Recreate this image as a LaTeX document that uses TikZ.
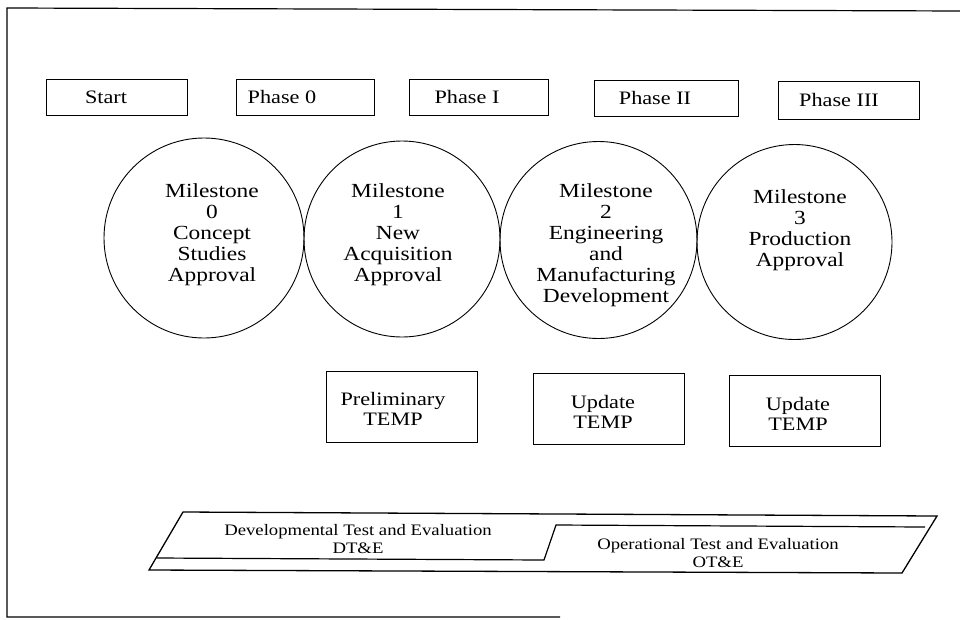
\documentclass[tikz,border=0pt]{standalone}
\usepackage{fontspec}
\setmainfont{Liberation Serif}[FakeStretch=1.17]
\usepackage{tikz}

\begin{document}
\begin{tikzpicture}[x=1pt,y=1pt,yscale=-1,xscale=1,
		phasebox/.style={draw, line width=1pt, minimum height=36pt, inner sep=0pt},
		boxtext/.style={font=\fontsize{19}{20}\selectfont, inner sep=0pt},
		milestone/.style={draw, circle, line width=0.9pt, inner sep=0pt},
		mtext/.style={align=center, font=\fontsize{20}{21}\selectfont, inner sep=0pt},
		tempbox/.style={draw, line width=1pt, minimum width=151pt, minimum height=71pt, inner sep=0pt},
		temptext/.style={align=center, font=\fontsize{19}{20}\selectfont, inner sep=0pt},
		bandtext/.style={align=center, font=\fontsize{16}{18}\selectfont, inner sep=0pt}]
		%page is 960 x 619, frame runs off on the right
		\useasboundingbox (0,0) rectangle (960,619);
		\draw [line width=1.2pt] (965,11) -- (7,8) -- (7,617) -- (560,617) ;
		
		% phases
		\node [phasebox, minimum width=141pt] (start) at (116.5,97) {};
		\node [boxtext] (start-t) at (106,97) {Start};
		\node [phasebox, minimum width=138pt] (phase0) at (305,97) {};
		\node [boxtext] (phase0-t) at (282,97) {Phase 0};
		\node [phasebox, minimum width=139pt] (phase1) at (478.5,97) {};
		\node [boxtext] (phase1-t) at (467,97) {Phase I};
		\node [phasebox, minimum width=144pt] (phase2) at (666,98) {};
		\node [boxtext] (phase2-t) at (655,98) {Phase II};
		\node [phasebox, minimum width=141pt, minimum height=38pt] (phase3) at (848.5,100) {};
		\node [boxtext] (phase3-t) at (839,100) {Phase III};
		
		% milestones
		\node [milestone, minimum size=200pt] (m0) at (204,238) {};
		\node [milestone, minimum size=196pt] (m1) at (402,239) {};
		\node [milestone, minimum size=197pt] (m2) at (598.5,240) {};
		\node [milestone, minimum size=195pt] (m3) at (794.5,242) {};
		
		\node [mtext] (m0-t) at (212,234.5) {Milestone\\0\\Concept\\Studies\\Approval};
		\node [mtext] (m1-t) at (398,234.5) {Milestone\\1\\New\\Acquisition\\Approval};
		\node [mtext] (m2-t) at (606,245.5) {Milestone\\2\\Engineering\\and\\Manufacturing\\Development};
		\node [mtext] (m3-t) at (800,230.5) {Milestone\\3\\Production\\Approval};
		
		% TEMP
		\node [tempbox] (prelim) at (401.5,407) {};
		\node [temptext] (prelim-t) at (393,409) {Preliminary\\TEMP};
		\node [tempbox] (update1) at (609,408.5) {};
		\node [temptext] (update1-t) at (603,412) {Update\\TEMP};
		\node [tempbox] (update2) at (804.5,410.5) {};
		\node [temptext] (update2-t) at (798,414) {Update\\TEMP};
		
		% test and evaluation band
		\draw [line width=1.3pt] (183,512) -- (937,516) -- (902,573) -- (149,570) -- cycle ;
		\draw [line width=1.2pt] (157,558) -- (544,560) -- (556,525) -- (925,527) ;
		\node [bandtext] (dte) at (358,539) {Developmental Test and Evaluation\\DT\&E};
		\node [bandtext] (ote) at (718,553) {Operational Test and Evaluation\\OT\&E};
		
	\end{tikzpicture}
\end{document}
